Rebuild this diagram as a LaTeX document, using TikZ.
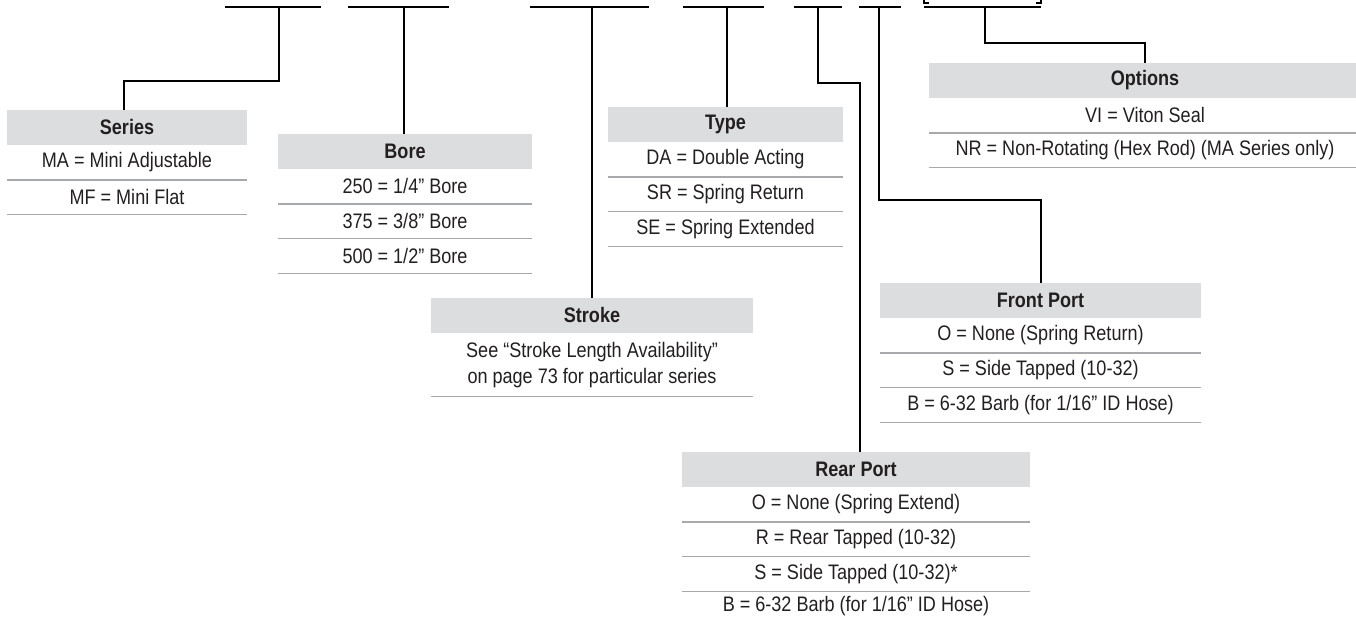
\documentclass[tikz,border=0pt]{standalone}
\usepackage{fontspec}
\setmainfont[FakeStretch=0.86]{Liberation Sans}
\definecolor{hdr}{HTML}{DCDDDE}
\definecolor{rulec}{HTML}{A7A9AC}
\definecolor{txt}{HTML}{231F20}
\tikzset{
  hdrbox/.style={fill=hdr, minimum height=34.5pt, inner sep=0pt, anchor=north,
    font=\fontsize{21}{23}\selectfont\bfseries, text=txt},
  rowbox/.style={minimum height=34.5pt, inner sep=0pt, anchor=north,
    font=\fontsize{21}{23}\selectfont, text=txt},
  conn/.style={draw=black, line width=1.2pt},
  sepline/.style={draw=rulec, line width=1.5pt}
}
\newcommand{\prow}[4]{%
  \node[rowbox, minimum width=#3] (#1) at (#2.south) {#4};
  \draw[sepline] (#1.south west) -- (#1.south east);}
\begin{document}
\begin{tikzpicture}[x=1pt,y=-1pt]
\path[use as bounding box] (0,0) rectangle (1356,616);
\clip (0,0) rectangle (1356,616);

% ---- slots ----
\coordinate (s1a) at (225,7);  \coordinate (s1b) at (321,7);  \coordinate (s1) at (279,7);
\coordinate (s2a) at (348,7);  \coordinate (s2b) at (449,7);  \coordinate (s2) at (404,7);
\coordinate (s3a) at (530,7);  \coordinate (s3b) at (649,7);  \coordinate (s3) at (592,7);
\coordinate (s4a) at (683,7);  \coordinate (s4b) at (764,7);  \coordinate (s4) at (727,7);
\coordinate (s5a) at (794,7);  \coordinate (s5b) at (842,7);  \coordinate (s5) at (818,7);
\coordinate (s6a) at (859,7);  \coordinate (s6b) at (901,7);  \coordinate (s6) at (879,7);
\coordinate (s7a) at (924,7);  \coordinate (s7b) at (1041,7); \coordinate (s7) at (985,7);
\foreach \s in {1,...,7} { \draw[conn] (s\s a) -- (s\s b); }
% bracket feet
\coordinate (b1) at (924,0); \coordinate (b2) at (1041,0);
\draw[conn] (b1) -- ++(0,3) -- ++(5,0);
\draw[conn] (b2) -- ++(0,3) -- ++(-5,0);

% ---- Series ----
\node[hdrbox, minimum width=240pt] (series) at (127,110) {Series};
\prow{series1}{series}{240pt}{MA = Mini Adjustable}
\prow{series2}{series1}{240pt}{MF = Mini Flat}

% ---- Bore ----
\node[hdrbox, minimum width=254pt] (bore) at (405,134) {Bore};
\prow{bore1}{bore}{254pt}{250 = 1/4” Bore}
\prow{bore2}{bore1}{254pt}{375 = 3/8” Bore}
\prow{bore3}{bore2}{254pt}{500 = 1/2” Bore}

% ---- Type ----
\node[hdrbox, minimum width=235pt] (type) at (725.5,107) {Type};
\prow{type1}{type}{235pt}{DA = Double Acting}
\prow{type2}{type1}{235pt}{SR = Spring Return}
\prow{type3}{type2}{235pt}{SE = Spring Extended}

% ---- Stroke ----
\node[hdrbox, minimum width=322pt] (stroke) at (592,298) {Stroke};
\node[rowbox, minimum width=322pt, minimum height=63pt, align=center,
      font=\fontsize{21}{26}\selectfont] (stroke1) at (stroke.south)
  {See “Stroke Length Availability”\\on page 73 for particular series};
\draw[sepline] (stroke1.south west) -- (stroke1.south east);

% ---- Options ----
\node[hdrbox, minimum width=432pt] (options) at (1145,63) {Options};
\prow{options1}{options}{432pt}{VI = Viton Seal}
\prow{options2}{options1}{432pt}{NR = Non-Rotating (Hex Rod) (MA Series only)}

% ---- Front Port ----
\node[hdrbox, minimum width=321pt] (front) at (1040.5,283) {Front Port};
\prow{front1}{front}{321pt}{O = None (Spring Return)}
\prow{front2}{front1}{321pt}{S = Side Tapped (10-32)}
\prow{front3}{front2}{321pt}{B = 6-32 Barb (for 1/16” ID Hose)}

% ---- Rear Port ----
\node[hdrbox, minimum width=348pt] (rear) at (856,452) {Rear Port};
\prow{rear1}{rear}{348pt}{O = None (Spring Extend)}
\prow{rear2}{rear1}{348pt}{R = Rear Tapped (10-32)}
\prow{rear3}{rear2}{348pt}{S = Side Tapped (10-32)*}
\node[rowbox, minimum width=348pt, minimum height=28.5pt] (rear4) at (rear3.south)
  {B = 6-32 Barb (for 1/16” ID Hose)};

% ---- connectors ----
\coordinate (k1) at (124,81);
\coordinate (k5) at (860,83);
\coordinate (k6) at (1041,200);
\coordinate (k7) at (1145,43);
\draw[conn] (s1) |- (k1) -- (k1 |- series.north);
\draw[conn] (s2) -- (s2 |- bore.north);
\draw[conn] (s3) -- (s3 |- stroke.north);
\draw[conn] (s4) -- (s4 |- type.north);
\draw[conn] (s5) |- (k5) -- (k5 |- rear.north);
\draw[conn] (s6) |- (k6) -- (k6 |- front.north);
\draw[conn] (s7) |- (k7) -- (k7 |- options.north);
\end{tikzpicture}
\end{document}
